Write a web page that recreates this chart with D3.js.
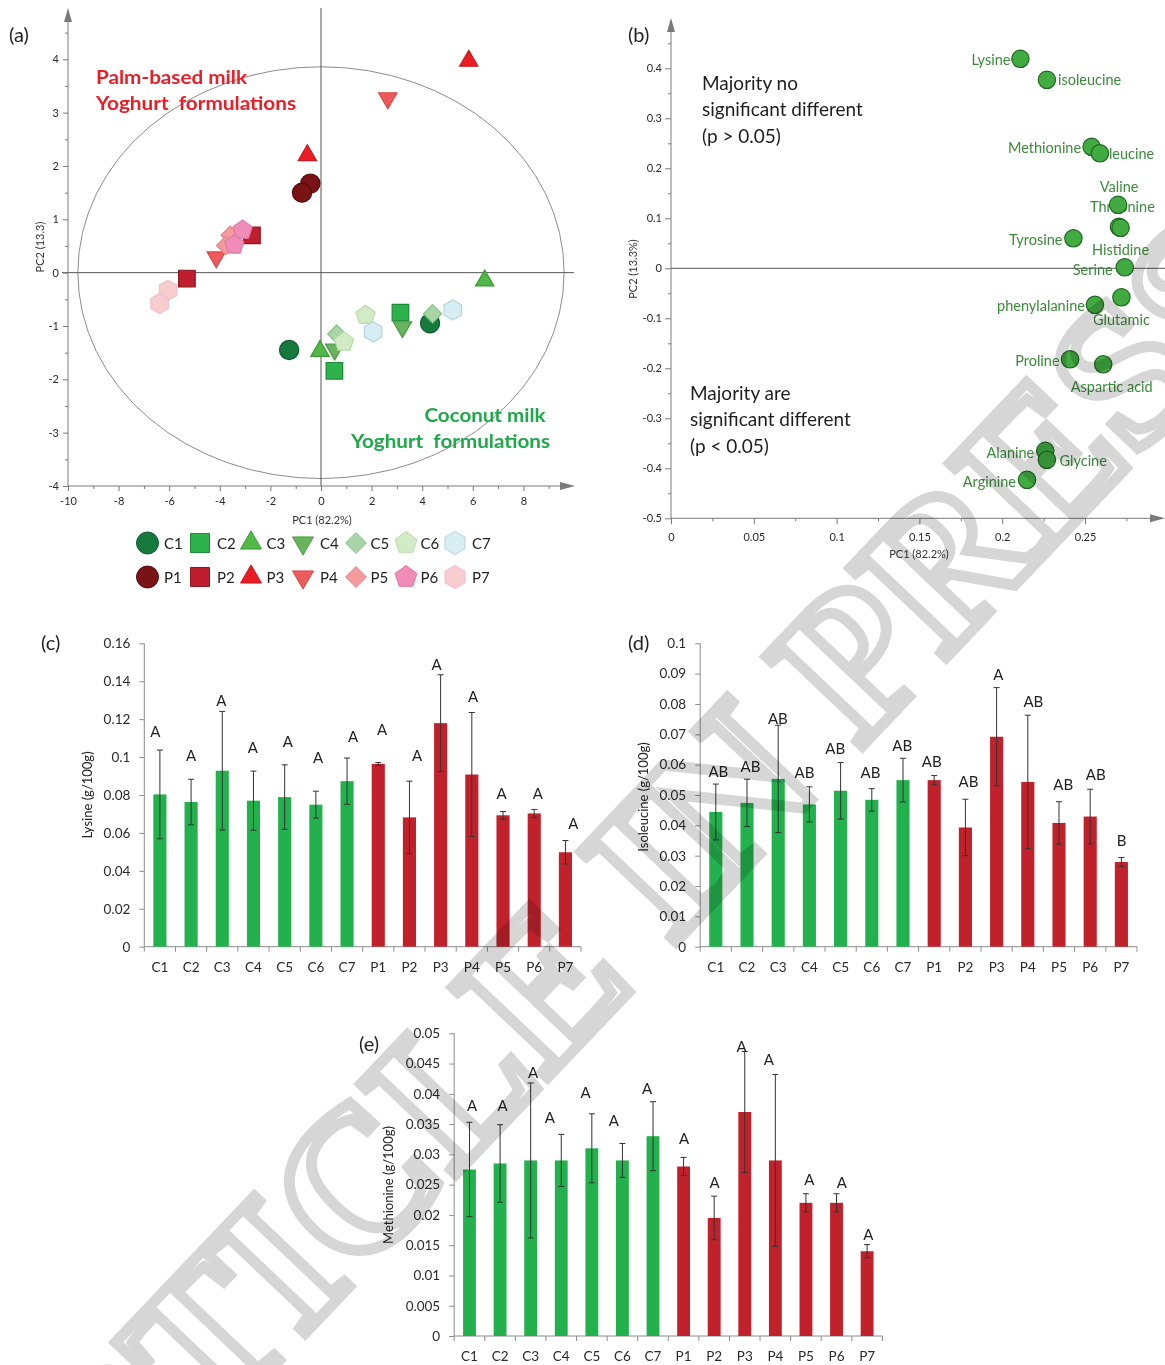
<!DOCTYPE html>
<html>
<head>
<meta charset="utf-8">
<script src="https://cdn.jsdelivr.net/npm/d3@7"></script>
<style>
  body { margin: 0; background: #fff; }
  svg { display: block; font-family: Lato, "Open Sans", sans-serif; }
</style>
</head>
<body>
<svg id="fig" width="1165" height="1365"></svg>
<script>
// ---------------- data ----------------
const groups = ["C1","C2","C3","C4","C5","C6","C7","P1","P2","P3","P4","P5","P6","P7"];
const groupShapes = ["circle","square","triUp","triDown","diamond","pentagon","hexagon",
                     "circle","square","triUp","triDown","diamond","pentagon","hexagon"];
const groupFill = ["#167a3c","#2db24c","#52b848","#68b35c","#a8d4a8","#d3eac6","#d8edf4",
                   "#7a1315","#be1e2d","#ec1c24","#ef5a5a","#f39b9d","#f08cb8","#f8cdd0"];
const groupStroke = ["#0f5a2b","#1d8a38","#3a9a35","#4a9a42","#86c486","#b9dca8","#b3d5dc",
                     "#560c0e","#8c1820","#c41a20","#d84646","#e58386","#e27aa6","#efbfca"];

// PCA score plot (two replicates per formulation)
const scoreGroup = ["C1","C1","C2","C2","C3","C3","C4","C4","C5","C5","C6","C6","C7","C7",
                    "P1","P1","P2","P2","P3","P3","P4","P4","P5","P5","P6","P6","P7","P7"];
const scorePC1 = [-1.26, 4.31, 0.53, 3.14, 6.47, -0.04, 0.54, 3.22, 0.62, 4.41, 0.91, 1.76, 2.06, 5.21,
                  -0.42, -0.75, -2.73, -5.30, 5.84, -0.54, 2.64, -4.14, -3.59, -3.77, -3.10, -3.43, -6.04, -6.38];
const scorePC2 = [-1.45, -0.95, -1.84, -0.75, -0.15, -1.47, -1.44, -1.02, -1.15, -0.77, -1.30, -0.80, -1.11, -0.70,
                  1.67, 1.50, 0.70, -0.11, 3.97, 2.20, 3.27, 0.29, 0.70, 0.51, 0.80, 0.52, -0.33, -0.58];

// PCA loadings of amino acids
const aminoNames = ["Lysine","isoleucine","Methionine","leucine","Valine","Threonine","Histidine",
                    "Tyrosine","Serine","Glutamic","phenylalanine","Proline","Aspartic acid",
                    "Alanine","Glycine","Arginine"];
const aminoPC1 = [0.211, 0.227, 0.254, 0.259, 0.270, 0.2705, 0.2715, 0.243, 0.274, 0.272, 0.256, 0.241, 0.261, 0.226, 0.227, 0.215];
const aminoPC2 = [0.419, 0.377, 0.243, 0.230, 0.127, 0.083, 0.081, 0.060, 0.002, -0.058, -0.073, -0.182, -0.192, -0.365, -0.383, -0.423];

// amino acid contents (g/100g), mean and standard deviation
const lysineMean = [0.0803, 0.0763, 0.0928, 0.0770, 0.0789, 0.0749, 0.0873, 0.0964, 0.0682, 0.1179, 0.0908, 0.0693, 0.0703, 0.0498];
const lysineSD   = [0.0234, 0.0120, 0.0313, 0.0156, 0.0170, 0.0071, 0.0122, 0.0007, 0.0191, 0.0255, 0.0327, 0.0020, 0.0021, 0.0062];
const lysineTag  = ["A","A","A","A","A","A","A","A","A","A","A","A","A","A"];

const isoleucineMean = [0.0444, 0.0474, 0.0553, 0.0469, 0.0514, 0.0484, 0.0549, 0.0549, 0.0393, 0.0692, 0.0543, 0.0408, 0.0429, 0.0279];
const isoleucineSD   = [0.0092, 0.0078, 0.0177, 0.0058, 0.0093, 0.0037, 0.0072, 0.0015, 0.0093, 0.0162, 0.0220, 0.0070, 0.0090, 0.0015];
const isoleucineTag  = ["AB","AB","AB","AB","AB","AB","AB","AB","AB","A","AB","AB","AB","B"];

const methionineMean = [0.0275, 0.0285, 0.0290, 0.0290, 0.0310, 0.0290, 0.0330, 0.0280, 0.0195, 0.0370, 0.0290, 0.0220, 0.0220, 0.0140];
const methionineSD   = [0.0078, 0.0064, 0.0128, 0.0043, 0.0057, 0.0028, 0.0057, 0.0015, 0.0036, 0.0100, 0.0142, 0.0015, 0.0015, 0.0011];
const methionineTag  = ["A","A","A","A","A","A","A","A","A","A","A","A","A","A"];

// axis tick values
const scoreXTicks = [-10,-8,-6,-4,-2,0,2,4,6,8];
const scoreYTicks = [-4,-3,-2,-1,0,1,2,3,4];
const loadXTicks = [0,0.05,0.1,0.15,0.2,0.25];
const loadYTicks = [-0.5,-0.4,-0.3,-0.2,-0.1,0,0.1,0.2,0.3,0.4];
const lysineTicks = [0,0.02,0.04,0.06,0.08,0.1,0.12,0.14,0.16];
const isoleucineTicks = [0,0.01,0.02,0.03,0.04,0.05,0.06,0.07,0.08,0.09,0.1];
const methionineTicks = [0,0.005,0.01,0.015,0.02,0.025,0.03,0.035,0.04,0.045,0.05];

// ---------------- layout helpers (label placement) ----------------
// loading label offsets in px relative to the point, with anchor
const aminoLabelPos = [
  [-10,6,"end"],[11,5,"start"],[-10.5,6,"end"],[9,6,"start"],[1,-13,"middle"],[3.5,-14.5,"middle"],
  [0,27,"middle"],[-11,7,"end"],[-12,8,"end"],[0,28,"middle"],[-10,6,"end"],[-10.5,6.4,"end"],
  [8.5,27.4,"middle"],[-11,7,"end"],[12.6,6,"start"],[-11,7,"end"]];
// significance letters: height (in axis units) and horizontal nudge (px)
const lysineTagAt = [0.1134,0.101,0.130,0.105,0.108,0.0997,0.111,0.1146,0.101,0.149,0.132,0.081,0.081,0.065];
const lysineTagDx = [-4.6,0,-1,-0.7,3.1,2.3,6.1,3.8,7.6,-4,1.3,-1.4,3.5,8];
const isoleucineTagAt = [0.0577,0.0593,0.0753,0.0574,0.0652,0.0574,0.0662,0.0612,0.0544,0.0898,0.0808,0.0535,0.0568,0.0349];
const isoleucineTagDx = [2.6,3.5,-0.3,-4.9,-5.4,-1.3,-0.8,-2.5,3.1,1.8,5.6,4.2,5.5,0.2];
const methionineTagAt = [0.038,0.038,0.0436,0.0361,0.0402,0.0356,0.0408,0.0327,0.0254,0.0478,0.0456,0.0259,0.0254,0.0167];
const methionineTagDx = [2.5,2.5,2.4,-11.3,-6.2,-8.7,-6,0.6,0.5,-3.1,-6.4,3.4,5.4,1.1];

const fmtNum = v => String(+v.toFixed(4));
const svg = d3.select("#fig");
svg.append("rect").attr("width",1165).attr("height",1365).attr("fill","#fff");

const AXIS = "#7a7a7a";

function polyPath(n, R, rotDeg) {
  const pts = d3.range(n).map(i => {
    const a = (rotDeg + i * 360 / n) * Math.PI / 180;
    return [R * Math.cos(a), R * Math.sin(a)];
  });
  return "M" + pts.map(p => p[0].toFixed(2) + "," + p[1].toFixed(2)).join("L") + "Z";
}
function markerPath(shape, s) {
  switch (shape) {
    case "circle": return `M${s},0A${s},${s} 0 1 1 ${-s},0A${s},${s} 0 1 1 ${s},0Z`;
    case "square": return polyPath(4, s * 1.22, -45);
    case "triUp": return polyPath(3, s * 1.1, -90);
    case "triDown": return polyPath(3, s * 1.1, 90);
    case "diamond": return polyPath(4, s * 0.95, -90);
    case "pentagon": return polyPath(5, s * 1.05, -90);
    case "hexagon": return polyPath(6, s * 1.05, -90);
  }
}
function styleAxis(sel, fontSize) {
  sel.select(".domain").remove();
  sel.selectAll(".tick line").attr("stroke", AXIS);
  sel.selectAll(".tick text").attr("fill", "#2a2a2a").attr("font-size", fontSize)
     .attr("font-family", "Lato, 'Open Sans', sans-serif");
}
function arrowUp(g, x, tipY) {
  g.append("path").attr("d", `M${x},${tipY}L${x-4},${tipY+14}L${x+4},${tipY+14}Z`).attr("fill", AXIS);
}
function arrowRight(g, tipX, y) {
  g.append("path").attr("d", `M${tipX},${y}L${tipX-15},${y-4}L${tipX-15},${y+4}Z`).attr("fill", AXIS);
}

// ================= (a) PCA scores =================
{
  const g = svg.append("g");
  const x = d3.scaleLinear().domain([-10, 10]).range([68, 574]);
  const y = d3.scaleLinear().domain([-4, 4]).range([486, 59.3]);

  // correlation ellipse and crosshair
  g.append("ellipse").attr("cx", x(0)).attr("cy", y(0))
    .attr("rx", x(9.61) - x(0)).attr("ry", y(0) - y(3.86))
    .attr("fill", "none").attr("stroke", "#8c8c8c").attr("stroke-width", 1);
  g.append("line").attr("x1", x(0)).attr("x2", x(0)).attr("y1", 8).attr("y2", y(-4))
    .attr("stroke", "#555").attr("stroke-width", 1);
  g.append("line").attr("x1", 62).attr("x2", 574).attr("y1", y(0)).attr("y2", y(0))
    .attr("stroke", "#555").attr("stroke-width", 1);

  // axes
  g.append("line").attr("x1", 68).attr("x2", 68).attr("y1", 486).attr("y2", 18).attr("stroke", AXIS);
  g.append("line").attr("x1", 68).attr("x2", 565).attr("y1", 486).attr("y2", 486).attr("stroke", AXIS);
  arrowUp(g, 68, 8);
  arrowRight(g, 575, 486);
  g.append("g").attr("transform", "translate(68,0)")
    .call(d3.axisLeft(y).tickValues(scoreYTicks).tickSize(5).tickPadding(4).tickFormat(fmtNum))
    .call(s => styleAxis(s, 11));
  g.append("g").attr("transform", "translate(68,0)")
    .call(d3.axisLeft(y).tickValues(d3.range(-3.5, 4.6, 1)).tickSize(3).tickFormat(""))
    .call(s => styleAxis(s, 11));
  g.append("g").attr("transform", "translate(0,486)")
    .call(d3.axisBottom(x).tickValues(scoreXTicks).tickSize(5).tickPadding(6).tickFormat(fmtNum))
    .call(s => styleAxis(s, 11));
  g.append("g").attr("transform", "translate(0,486)")
    .call(d3.axisBottom(x).tickValues(d3.range(-9, 10, 2)).tickSize(3).tickFormat(""))
    .call(s => styleAxis(s, 11));

  g.append("text").attr("transform", "translate(44,247) rotate(-90)").attr("text-anchor", "middle")
    .attr("font-size", 11).attr("fill", "#333").text("PC2 (13.3)");
  g.append("text").attr("x", 322).attr("y", 524).attr("text-anchor", "middle")
    .attr("font-size", 11).attr("fill", "#333").text("PC1 (82.2%)");
  g.append("text").attr("x", 9).attr("y", 42).attr("font-size", 20).attr("fill", "#222").text("(a)");

  // group annotations
  g.append("text").attr("x", 96).attr("y", 83.5).attr("font-size", 19).attr("font-weight", 700)
    .attr("fill", "#ee1c25").attr("textLength", 151).attr("lengthAdjust", "spacingAndGlyphs").text("Palm-based milk");
  g.append("text").attr("x", 96).attr("y", 110).attr("font-size", 19).attr("font-weight", 700)
    .attr("fill", "#ee1c25").attr("textLength", 200).attr("lengthAdjust", "spacingAndGlyphs")
    .attr("xml:space", "preserve").text("Yoghurt  formulations");
  g.append("text").attr("x", 424.5).attr("y", 421.5).attr("font-size", 19).attr("font-weight", 700)
    .attr("fill", "#1fa84a").attr("textLength", 121).attr("lengthAdjust", "spacingAndGlyphs").text("Coconut milk");
  g.append("text").attr("x", 351).attr("y", 447.5).attr("font-size", 19).attr("font-weight", 700)
    .attr("fill", "#1fa84a").attr("textLength", 199).attr("lengthAdjust", "spacingAndGlyphs")
    .attr("xml:space", "preserve").text("Yoghurt  formulations");

  // score points, drawn group by group
  const order = d3.range(scoreGroup.length).sort((a, b) =>
    groups.indexOf(scoreGroup[a]) - groups.indexOf(scoreGroup[b]) || a - b);
  g.selectAll("path.score").data(order).join("path").attr("class", "score")
    .attr("transform", i => `translate(${x(scorePC1[i])},${y(scorePC2[i])})`)
    .attr("d", i => markerPath(groupShapes[groups.indexOf(scoreGroup[i])], 9.6))
    .attr("fill", i => groupFill[groups.indexOf(scoreGroup[i])])
    .attr("stroke", i => groupStroke[groups.indexOf(scoreGroup[i])])
    .attr("stroke-width", 1.2);

  // legend
  const legX = [147.5, 200, 251, 303, 356, 406, 455];
  const legLabelX = [164, 217, 266.5, 320, 370.5, 420.5, 472];
  groups.forEach((grp, i) => {
    const col = i % 7, row = Math.floor(i / 7);
    const cy = row ? 577 : 543;
    g.append("path").attr("transform", `translate(${legX[col]},${cy})`)
      .attr("d", markerPath(groupShapes[i], 11))
      .attr("fill", groupFill[i]).attr("stroke", groupStroke[i]).attr("stroke-width", 1);
    g.append("text").attr("x", legLabelX[col]).attr("y", cy + 5.5).attr("font-size", 15)
      .attr("fill", "#222").text(grp);
  });
}

// ================= (b) PCA loadings =================
{
  const g = svg.append("g");
  const x = d3.scaleLinear().domain([0, 0.3]).range([671, 671 + 0.3 * 1656]);
  const y = d3.scaleLinear().domain([-0.5, 0.4]).range([518.3, 68.3]);

  g.append("line").attr("x1", 671).attr("x2", 1165).attr("y1", y(0)).attr("y2", y(0))
    .attr("stroke", "#555");
  g.append("line").attr("x1", 671).attr("x2", 671).attr("y1", 518.3).attr("y2", 28).attr("stroke", AXIS);
  g.append("line").attr("x1", 671).attr("x2", 1152).attr("y1", 518.3).attr("y2", 518.3).attr("stroke", AXIS);
  arrowUp(g, 671, 18);
  arrowRight(g, 1165, 518.3);
  g.append("g").attr("transform", "translate(671,0)")
    .call(d3.axisLeft(y).tickValues(loadYTicks).tickSize(6).tickPadding(3).tickFormat(fmtNum))
    .call(s => styleAxis(s, 11));
  g.append("g").attr("transform", "translate(671,0)")
    .call(d3.axisLeft(y).tickValues(d3.range(-0.45, 0.46, 0.1)).tickSize(3).tickFormat(""))
    .call(s => styleAxis(s, 11));
  g.append("g").attr("transform", "translate(0,518.3)")
    .call(d3.axisBottom(x).tickValues(loadXTicks).tickSize(6).tickPadding(9).tickFormat(fmtNum))
    .call(s => styleAxis(s, 11));
  g.append("g").attr("transform", "translate(0,518.3)")
    .call(d3.axisBottom(x).tickValues(d3.range(0.025, 0.28, 0.05)).tickSize(3).tickFormat(""))
    .call(s => styleAxis(s, 11));

  g.append("text").attr("transform", "translate(637,269) rotate(-90)").attr("text-anchor", "middle")
    .attr("font-size", 11).attr("fill", "#333").text("PC2 (13.3%)");
  g.append("text").attr("x", 919).attr("y", 558).attr("text-anchor", "middle")
    .attr("font-size", 11).attr("fill", "#333").text("PC1 (82.2%)");
  g.append("text").attr("x", 628).attr("y", 42).attr("font-size", 20).attr("fill", "#222").text("(b)");

  const note = (x0, y0, lines) => lines.forEach((t, i) =>
    g.append("text").attr("x", x0).attr("y", y0 + i * 26.3).attr("font-size", 19)
      .attr("fill", "#1e1e1e").text(t));
  note(702, 90, ["Majority no", "significant different", "(p > 0.05)"]);
  note(690, 400, ["Majority are", "significant different", "(p < 0.05)"]);

  aminoNames.forEach((name, i) => {
    const px = x(aminoPC1[i]), py = y(aminoPC2[i]);
    const [dx, dy, anchor] = aminoLabelPos[i];
    g.append("text").attr("x", px + dx).attr("y", py + dy).attr("text-anchor", anchor)
      .attr("font-size", 14.5).attr("fill", "#3b8b3b").text(name);
  });
  g.selectAll("circle.load").data(aminoNames).join("circle").attr("class", "load")
    .attr("cx", (d, i) => x(aminoPC1[i])).attr("cy", (d, i) => y(aminoPC2[i])).attr("r", 8.7)
    .attr("fill", "#41ab41").attr("stroke", "#21671f").attr("stroke-width", 1.2);
}

// ================= (c)(d)(e) bar charts =================
function barPanel(o) {
  const g = svg.append("g");
  const x = d3.scaleBand().domain(groups).range([o.x0, o.x1]).paddingInner(0.58).paddingOuter(0.29);
  const y = d3.scaleLinear().domain([0, o.ymax]).range([o.yBase, o.yTop]);

  g.append("line").attr("x1", o.x0).attr("x2", o.x0).attr("y1", o.yBase).attr("y2", o.yTop).attr("stroke", "#8c8c8c");
  g.append("line").attr("x1", o.x0).attr("x2", o.x1).attr("y1", o.yBase).attr("y2", o.yBase).attr("stroke", "#8c8c8c");
  g.append("g").attr("transform", `translate(${o.x0},0)`)
    .call(d3.axisLeft(y).tickValues(o.ticks).tickSize(5).tickPadding(9).tickFormat(fmtNum))
    .call(s => { styleAxis(s, 13.5); s.selectAll(".tick line").attr("stroke", "#8c8c8c"); });
  // category separators
  g.selectAll("line.sep").data(d3.range(groups.length + 1)).join("line").attr("class", "sep")
    .attr("x1", i => o.x0 + i * x.step()).attr("x2", i => o.x0 + i * x.step())
    .attr("y1", o.yBase).attr("y2", o.yBase + 5).attr("stroke", "#8c8c8c");
  g.selectAll("text.cat").data(groups).join("text").attr("class", "cat")
    .attr("x", d => x(d) + x.bandwidth() / 2).attr("y", o.yBase + 25).attr("text-anchor", "middle")
    .attr("font-size", 13.5).attr("fill", "#2a2a2a").text(d => d);

  g.selectAll("rect.bar").data(groups).join("rect").attr("class", "bar")
    .attr("x", d => x(d)).attr("width", x.bandwidth())
    .attr("y", (d, i) => y(o.mean[i])).attr("height", (d, i) => y(0) - y(o.mean[i]))
    .attr("fill", d => d[0] === "C" ? "#22b14c" : "#c0212b");

  groups.forEach((d, i) => {
    const cx = x(d) + x.bandwidth() / 2;
    const hi = y(o.mean[i] + o.sd[i]), lo = y(o.mean[i] - o.sd[i]);
    g.append("line").attr("x1", cx).attr("x2", cx).attr("y1", hi).attr("y2", lo).attr("stroke", "#333");
    g.append("line").attr("x1", cx - 3).attr("x2", cx + 3).attr("y1", hi).attr("y2", hi).attr("stroke", "#333");
    g.append("line").attr("x1", cx - 3).attr("x2", cx + 3).attr("y1", lo).attr("y2", lo).attr("stroke", "#333");
    g.append("text").attr("x", cx + o.tagDx[i]).attr("y", y(o.tagAt[i]) + 5.5).attr("text-anchor", "middle")
      .attr("font-size", 15).attr("fill", "#222").text(o.tag[i]);
  });

  g.append("text").attr("transform", `translate(${o.titleX},${o.titleY}) rotate(-90)`)
    .attr("text-anchor", "middle").attr("font-size", 13).attr("fill", "#222").text(o.title);
  g.append("text").attr("x", o.panelX).attr("y", o.panelY).attr("font-size", 20).attr("fill", "#222").text(o.panel);
}

barPanel({ x0: 144.3, x1: 581, yBase: 946.7, yTop: 643.3, ymax: 0.16, ticks: lysineTicks,
  mean: lysineMean, sd: lysineSD, tag: lysineTag, tagAt: lysineTagAt, tagDx: lysineTagDx,
  title: "Lysine (g/100g)", titleX: 92, titleY: 795, panel: "(c)", panelX: 41, panelY: 650 });
barPanel({ x0: 700.2, x1: 1137, yBase: 946.7, yTop: 643.3, ymax: 0.1, ticks: isoleucineTicks,
  mean: isoleucineMean, sd: isoleucineSD, tag: isoleucineTag, tagAt: isoleucineTagAt, tagDx: isoleucineTagDx,
  title: "Isoleucine (g/100g)", titleX: 648, titleY: 797, panel: "(d)", panelX: 628, panelY: 650 });
barPanel({ x0: 454.2, x1: 882.4, yBase: 1336, yTop: 1033.3, ymax: 0.05, ticks: methionineTicks,
  mean: methionineMean, sd: methionineSD, tag: methionineTag, tagAt: methionineTagAt, tagDx: methionineTagDx,
  title: "Methionine (g/100g)", titleX: 393, titleY: 1185, panel: "(e)", panelX: 359, panelY: 1051 });

// ================= page watermark (multiplied so the chart stays legible) =================
svg.append("text")
  .attr("transform", "translate(602,922) rotate(-46.5)")
  .attr("text-anchor", "middle").attr("dominant-baseline", "central")
  .attr("font-family", "'Liberation Serif', 'DejaVu Serif', serif").attr("font-weight", 700)
  .attr("font-size", 200).attr("fill", "none")
  .attr("stroke", "#d6d6d6").attr("stroke-width", 11)
  .style("mix-blend-mode", "multiply")
  .text("ARTICLE IN PRESS");
</script>
</body>
</html>
